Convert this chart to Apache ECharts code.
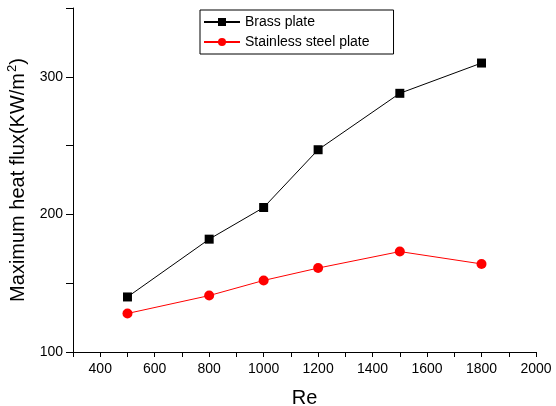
<!DOCTYPE html>
<html>
<head>
<meta charset="utf-8">
<script src="https://cdn.jsdelivr.net/npm/echarts@6/dist/echarts.min.js"></script>
<style>
  html, body { margin: 0; padding: 0; background: #fff; }
  #chart { width: 556px; height: 406px; }
</style>
</head>
<body>
<div id="chart"></div>
<script>
// Re values and heat flux readings
const reValues = [500, 800, 1000, 1200, 1500, 1800];
const brass = [140, 182, 205, 247, 288, 310];
const stainless = [128, 141, 152, 161, 173, 164];
const seriesNames = ['Brass plate', 'Stainless steel plate'];

const font = 'Liberation Sans, Arial, sans-serif';

const chart = echarts.init(document.getElementById('chart'));
chart.setOption({
  animation: false,
  grid: { left: 73, top: 8, right: 20, bottom: 54, containLabel: false, outerBoundsMode: 'none' },
  legend: {
    orient: 'vertical',
    left: 200,
    top: 10,
    padding: [5, 24, 5, 3],
    itemGap: 6,
    itemWidth: 36,
    itemHeight: 10,
    borderColor: '#000',
    borderWidth: 1,
    borderRadius: 0,
    textStyle: { fontFamily: font, fontSize: 14, color: '#000' },
    data: seriesNames
  },
  xAxis: {
    type: 'value',
    min: 300,
    max: 2000,
    interval: 100,
    name: 'Re',
    nameLocation: 'middle',
    nameGap: 36,
    nameTextStyle: { fontFamily: font, fontSize: 20, color: '#000' },
    axisLine: { lineStyle: { color: '#000', width: 1 } },
    axisTick: { lineStyle: { color: '#000' }, length: 5 },
    splitLine: { show: false },
    axisLabel: {
      fontFamily: font, fontSize: 14, color: '#000', margin: 10,
      formatter: (v) => (v % 200 === 0 ? String(v) : '')
    }
  },
  yAxis: {
    type: 'value',
    min: 100,
    max: 350,
    interval: 50,
    name: 'Maximum heat flux(KW/m{sup|2})',
    nameLocation: 'middle',
    nameGap: 41,
    nameTextStyle: {
      fontFamily: font, fontSize: 20, color: '#000',
      rich: { sup: { fontFamily: font, fontSize: 13, verticalAlign: 'top', padding: [0, 0, 12, 1] } }
    },
    axisLine: { show: true, lineStyle: { color: '#000', width: 1 } },
    axisTick: { show: true, lineStyle: { color: '#000' }, length: 7 },
    splitLine: { show: false },
    axisLabel: {
      fontFamily: font, fontSize: 14, color: '#000', margin: 10,
      formatter: (v) => (v % 100 === 0 && v < 350 ? String(v) : '')
    }
  },
  series: [
    {
      name: seriesNames[0],
      type: 'line',
      data: reValues.map((x, i) => [x, brass[i]]),
      symbol: 'rect',
      symbolSize: 9,
      itemStyle: { color: '#000' },
      lineStyle: { color: '#000', width: 1 }
    },
    {
      name: seriesNames[1],
      type: 'line',
      data: reValues.map((x, i) => [x, stainless[i]]),
      symbol: 'circle',
      symbolSize: 10,
      itemStyle: { color: '#ff0000' },
      lineStyle: { color: '#ff0000', width: 1 }
    }
  ]
});
</script>
</body>
</html>
